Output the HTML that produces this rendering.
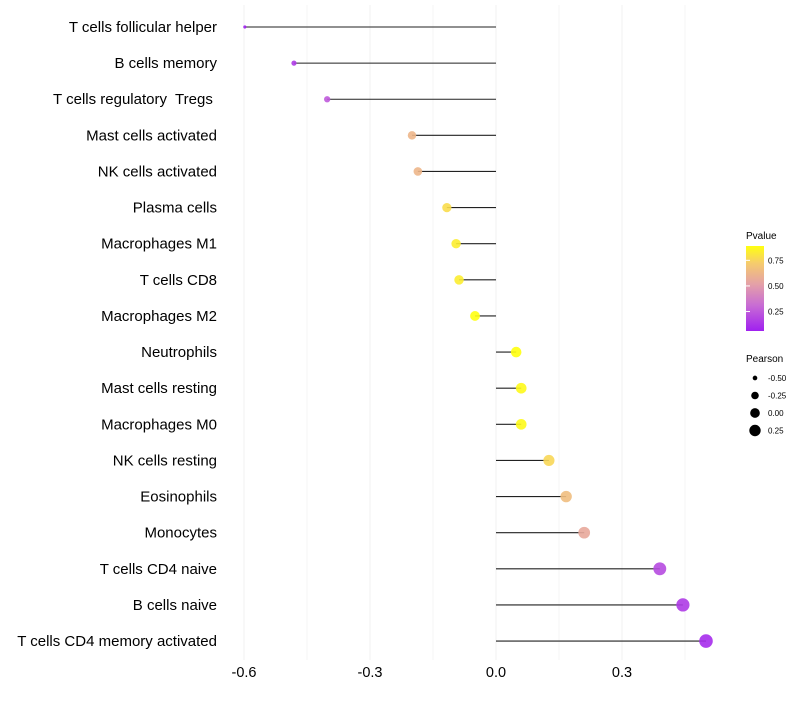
<!DOCTYPE html>
<html><head><meta charset="utf-8"><style>
body{margin:0;background:#fff;font-family:"Liberation Sans",sans-serif}
</style></head><body>
<svg id="chart" width="800" height="700" xmlns="http://www.w3.org/2000/svg" font-family="Liberation Sans, sans-serif">
<defs>
<linearGradient id="pg" x1="0" y1="1" x2="0" y2="0">
<stop offset="0" stop-color="#A020F0"/><stop offset="0.3" stop-color="#C86CD4"/>
<stop offset="0.55" stop-color="#E4A0A8"/><stop offset="0.8" stop-color="#F6CC6C"/>
<stop offset="1" stop-color="#FFFF10"/></linearGradient>
</defs>
<g id="grid"></g><g id="marks"></g><g id="labels"></g><g id="legend"></g>
</svg>
<script>
const categories=["T cells follicular helper","B cells memory","T cells regulatory  Tregs ","Mast cells activated","NK cells activated","Plasma cells","Macrophages M1","T cells CD8","Macrophages M2","Neutrophils","Mast cells resting","Macrophages M0","NK cells resting","Eosinophils","Monocytes","T cells CD4 naive","B cells naive","T cells CD4 memory activated"];
const pearson=[-0.598,-0.481,-0.402,-0.2,-0.186,-0.117,-0.095,-0.088,-0.05,0.048,0.06,0.06,0.126,0.167,0.21,0.39,0.445,0.5];
const pvalues=[0.05,0.15,0.25,0.62,0.62,0.78,0.83,0.83,0.89,0.89,0.87,0.87,0.76,0.66,0.56,0.2,0.15,0.1];
const xTicks=[-0.6,-0.3,0.0,0.3];
const xTickLabels=["-0.6","-0.3","0.0","0.3"];
const sizeLegend=[-0.5,-0.25,0,0.25];
const colorLegend=[0.25,0.5,0.75];
const NS="http://www.w3.org/2000/svg";
const xs=v=>496+v*420;
const ys=i=>27+i*36.12;
const rs=v=>Math.sqrt(Math.max(26+40*v,2.5));
const stops=[[0,[160,32,240]],[0.3,[200,108,212]],[0.55,[228,160,168]],[0.8,[246,204,108]],[1,[255,255,16]]];
function col(p){let t=(p-0.06)/(0.89-0.06);t=Math.max(0,Math.min(1,t));
for(let k=1;k<stops.length;k++){if(t<=stops[k][0]){const a=stops[k-1],b=stops[k];const f=(t-a[0])/(b[0]-a[0]);
return "rgb("+a[1].map((c,j)=>Math.round(c+(b[1][j]-c)*f)).join(",")+")";}}return "rgb(255,255,16)";}
function mk(tag,attrs,parent){const e=document.createElementNS(NS,tag);for(const k in attrs)e.setAttribute(k,attrs[k]);document.getElementById(parent).appendChild(e);return e;}
[-0.6,-0.45,-0.3,-0.15,0,0.15,0.3,0.45].forEach(v=>{
const g=mk("line",{x1:xs(v),x2:xs(v),y1:5,y2:660,stroke:"#f0f0f0","stroke-width":xTicks.some(t=>Math.abs(t-v)<1e-9)?1:0.6},"grid");

});
xTicks.forEach((v,i)=>{const t=mk("text",{x:xs(v),y:677,"text-anchor":"middle","font-size":14.5,fill:"#000"},"labels");t.textContent=xTickLabels[i];

});
categories.forEach((c,i)=>{
const y=ys(i);
const t=mk("text",{x:217,y:y+5,"text-anchor":"end","font-size":15,fill:"#000","xml:space":"preserve"},"labels");t.setAttribute("style","white-space:pre");t.textContent=c;


const l=mk("line",{x1:xs(0),x2:xs(pearson[i]),y1:y,y2:y,stroke:"#222","stroke-width":1.1},"marks");


const p=mk("circle",{cx:xs(pearson[i]),cy:y,r:rs(pearson[i]),fill:col(pvalues[i]),"fill-opacity":0.9},"marks");

});
let t=mk("text",{x:746,y:239,"font-size":10},"legend");t.textContent="Pvalue";


const bar=mk("rect",{x:746,y:246,width:18,height:85,fill:"url(#pg)"},"legend");


colorLegend.forEach(v=>{const y=331-(v-0.06)/(0.89-0.06)*85;
const tk=mk("line",{x1:746,x2:750,y1:y,y2:y,stroke:"#fff"},"legend");


const tt=mk("text",{x:768,y:y+3,"font-size":8},"legend");tt.textContent=v.toFixed(2);

});
t=mk("text",{x:746,y:362,"font-size":10},"legend");t.textContent="Pearson";


sizeLegend.forEach((v,i)=>{const y=378+i*17.5;
const c=mk("circle",{cx:755,cy:y,r:rs(v)*0.95,fill:"#000"},"legend");


const tt=mk("text",{x:768,y:y+3,"font-size":8},"legend");tt.textContent=v.toFixed(2);

});
</script>
</body></html>
